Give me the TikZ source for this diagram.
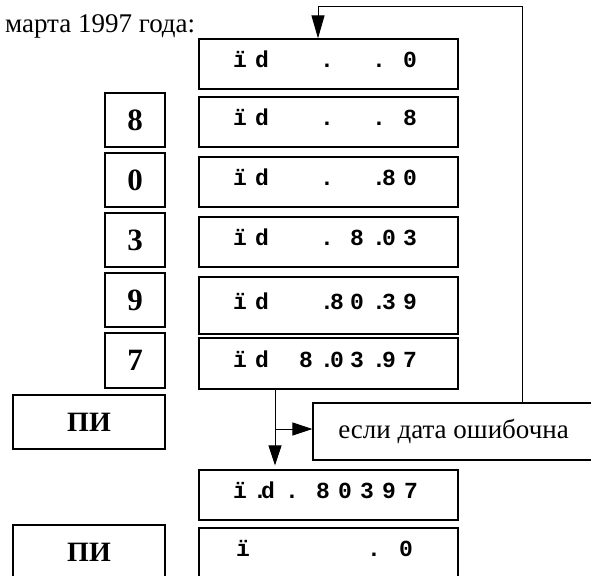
\documentclass[tikz,border=0pt]{standalone}
\usepackage{fontspec}
\setmainfont{Liberation Serif}
\setmonofont{Liberation Mono}
\usetikzlibrary{arrows.meta}
\newcommand\pc[2]{\rlap{\hspace*{#1pt}\makebox[0pt]{#2}}}
\newcommand\monorow[1]{\hbox to 259pt{#1\hfil}}
\begin{document}
\begin{tikzpicture}[x=1pt,y=-1pt,
  box/.style={draw, line width=1.2pt, inner sep=0pt, minimum height=50pt},
  regbox/.style={box, minimum width=259pt, text height=11pt, text depth=4pt, font=\fontsize{23}{23}\selectfont\ttfamily\bfseries},
  digbox/.style={box, minimum width=60pt, minimum height=54pt, font=\fontsize{31}{31}\selectfont\bfseries},
  pibox/.style={box, minimum width=152pt, minimum height=54pt, font=\fontsize{28}{28}\selectfont\bfseries},
  conn/.style={line width=1pt, -{Triangle[length=20pt,width=13pt]}},
  fbconn/.style={line width=1pt, -{Triangle[length=23pt,width=13pt]}}]
\useasboundingbox (0,0) rectangle (591,575);

\node[anchor=base west, inner sep=0pt, font=\fontsize{27}{27}\selectfont] (title) at (5,33) {марта 1997 года:};

% register boxes
\node[regbox] (r1) at (328.5,64) {\monorow{\pc{41}{ï}\pc{63}{d}\pc{128}{.}\pc{180}{.}\pc{211}{0}}};
\node[regbox] (r2) at (328.5,122) {\monorow{\pc{41}{ï}\pc{63}{d}\pc{128}{.}\pc{180}{.}\pc{211}{8}}};
\node[regbox] (r3) at (328.5,182) {\monorow{\pc{41}{ï}\pc{63}{d}\pc{128}{.}\pc{180}{.}\pc{190}{8}\pc{211}{0}}};
\node[regbox] (r4) at (328.5,242) {\monorow{\pc{41}{ï}\pc{63}{d}\pc{128}{.}\pc{158}{8}\pc{180}{.}\pc{190}{0}\pc{211}{3}}};
\node[regbox, minimum height=57pt] (r5) at (328.5,305.5) {\monorow{\pc{41}{ï}\pc{63}{d}\pc{128}{.}\pc{138}{8}\pc{158}{0}\pc{180}{.}\pc{190}{3}\pc{211}{9}}};
\node[regbox, minimum height=51pt] (r6) at (328.5,363.5) {\monorow{\pc{41}{ï}\pc{63}{d}\pc{107}{8}\pc{128}{.}\pc{138}{0}\pc{158}{3}\pc{180}{.}\pc{190}{9}\pc{211}{7}}};
\node[regbox] (r7) at (328.5,495) {\monorow{\pc{41}{ï}\pc{61}{.}\pc{69}{d}\pc{93}{.}\pc{124}{8}\pc{146}{0}\pc{168}{3}\pc{190}{9}\pc{212}{7}}};
\node[regbox] (r8) at (328.5,553) {\monorow{\pc{44}{ï}\pc{175}{.}\pc{207}{0}}};

% digit boxes
\node[digbox] (d8) at (135,120) {8};
\node[digbox] (d0) at (135,180) {0};
\node[digbox] (d3) at (135,240) {3};
\node[digbox] (d9) at (135,300) {9};
\node[digbox, minimum height=55pt] (d7) at (135,360.5) {7};

% PI boxes
\node[pibox] (pi1) at (89,422) {ПИ};
\node[pibox] (pi2) at (89,552) {ПИ};

% label box
\node[box, minimum width=281pt, minimum height=57pt, font=\fontsize{27}{27}\selectfont] (lbl) at (453.5,431.5) {если дата ошибочна};

% connectors
\coordinate (vx) at (275,0);
\coordinate (bj) at (275,429);
\coordinate (fb) at (522,7);
\coordinate (ax) at (318,7);
\draw[conn, shorten >=4pt] (vx |- r6.south) -- (vx |- r7.north);
\draw[conn] (bj) -- (bj -| lbl.west);
\draw[fbconn] (fb |- lbl.north) -- (fb) -- (ax) -- (ax |- r1.north);
\end{tikzpicture}
\end{document}
